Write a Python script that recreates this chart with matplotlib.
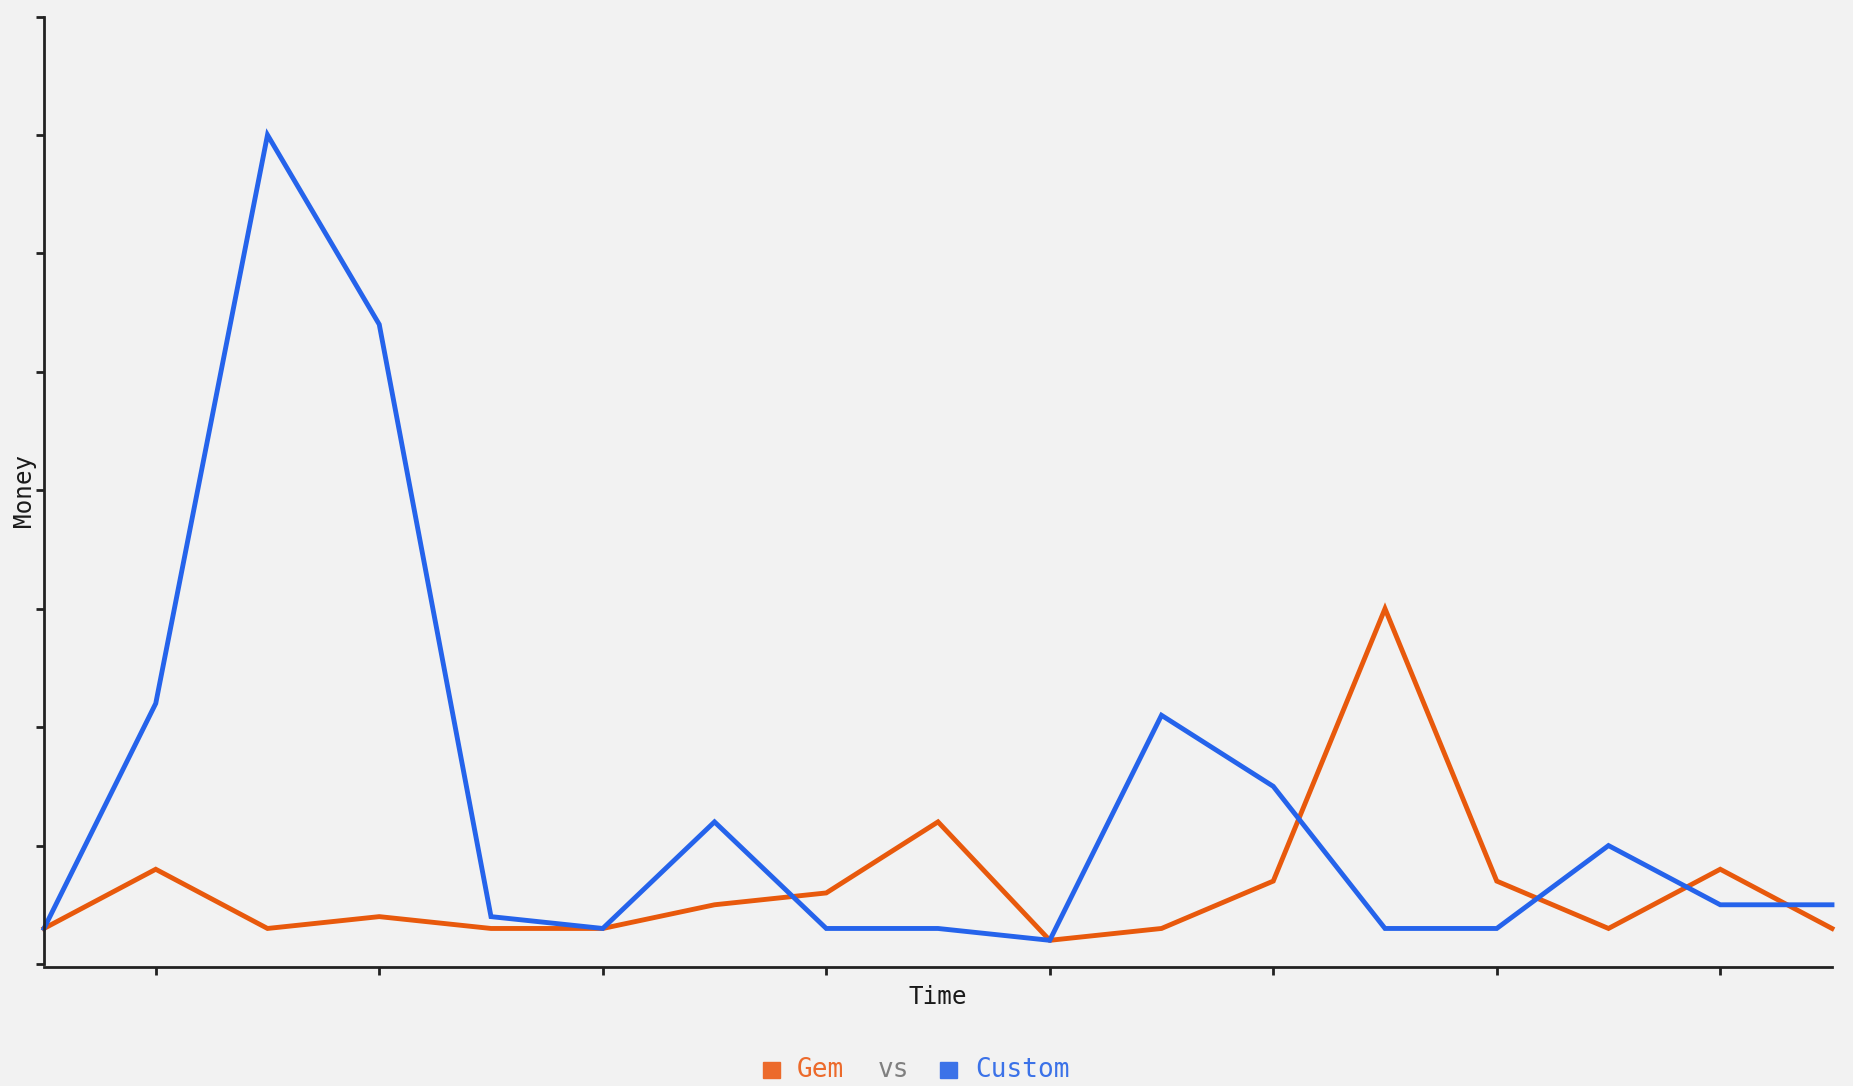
import numpy as np
import matplotlib.pyplot as plt

# Gem vs Custom money over time
time_idx = list(range(17))
gem = [3, 8, 3, 4, 3, 3, 5, 6, 12, 2, 3, 7, 30, 7, 3, 8, 3]
custom = [3, 22, 70, 54, 4, 3, 12, 3, 3, 2, 21, 15, 3, 3, 10, 5, 5]
x_ticks = [1, 3, 5, 7, 9, 11, 13, 15]
y_ticks = [0, 10, 20, 30, 40, 50, 60, 70, 80]

W, H = 1853, 1086
bg = '#f2f2f2'
orange = '#e8590c'
blue = '#2563eb'
mono = 'DejaVu Sans Mono'

fig = plt.figure(figsize=(W / 100, H / 100), dpi=100, facecolor=bg)
ax = fig.add_axes([44 / W, 1 - 964 / H, (1832 - 44) / W, (964 - 16.5) / H])
ax.set_facecolor(bg)

ax.plot(time_idx, gem, color=orange, lw=3.5, solid_joinstyle='miter', clip_on=False)
ax.plot(time_idx, custom, color=blue, lw=3.5, solid_joinstyle='miter', clip_on=False)

ax.set_xlim(0, 16)
ax.set_ylim(0, 80)
ax.set_xticks(x_ticks)
ax.set_yticks(y_ticks)
ax.set_xticklabels([])
ax.set_yticklabels([])
ax.tick_params(length=6, width=2, color='#222222')
for s in ['top', 'right']:
    ax.spines[s].set_visible(False)
for s in ['left', 'bottom']:
    ax.spines[s].set_color('#222222')
    ax.spines[s].set_linewidth(2)
ax.spines['bottom'].set_position(('outward', 2))

fig.text(938 / W, 1 - 997 / H, 'Time', ha='center', va='center',
         fontsize=17.5, family=mono, color='#1a1a1a')
fig.text(24 / W, 1 - 490 / H, 'Money', ha='center', va='center', rotation=90,
         fontsize=17.5, family=mono, color='#1a1a1a')

# legend row
ly = 1 - 1070 / H
fig.patches.append(plt.Rectangle((763 / W, 1 - 1078 / H), 17 / W, 16 / H,
                                 transform=fig.transFigure, color='#ec6a2b'))
fig.text(797 / W, ly, 'Gem', ha='left', va='center', fontsize=18.8, family=mono, color='#ec6a2b')
fig.text(878 / W, ly, 'vs', ha='left', va='center', fontsize=18.8, family=mono, color='#808080')
fig.patches.append(plt.Rectangle((940 / W, 1 - 1078 / H), 17 / W, 16 / H,
                                 transform=fig.transFigure, color='#3b72e8'))
fig.text(975 / W, ly, 'Custom', ha='left', va='center', fontsize=18.8, family=mono, color='#3b72e8')

fig.savefig('out.png', dpi=100, facecolor=bg)
